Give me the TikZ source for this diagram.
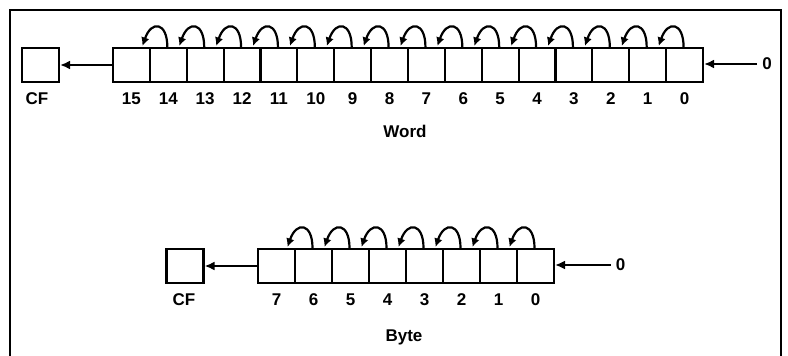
\documentclass[tikz,border=0pt]{standalone}
\usepackage{fontspec}
\setmainfont{Liberation Sans}
\usetikzlibrary{arrows.meta,calc}

\begin{document}
\begin{tikzpicture}[x=1pt,y=1pt,
  frame/.style={line width=2.2pt},
  cell/.style={draw,line width=2.1pt,minimum width=36.9pt,minimum height=34pt,inner sep=0pt},
  flagbox/.style={cell,minimum width=37pt},
  bitlbl/.style={font=\fontsize{17}{19}\selectfont\bfseries,inner sep=1pt},
  zerolbl/.style={bitlbl,inner xsep=5pt},
  title/.style={font=\fontsize{17}{19}\selectfont\bfseries,inner sep=1pt},
  hline/.style={line width=2.2pt,-{Latex[length=10pt,width=9pt]}},
  shiftarc/.style={line width=2.2pt,-{Latex[length=8.5pt,width=8.5pt]}}
]
\useasboundingbox (0,0) rectangle (788,-356);

% open frame, running off the lower edge
\draw[frame] (10,-356) -- (10,-10) -- (781,-10) -- (781,-356);

% ---------- word shift ----------
\foreach \b in {0,...,15}{
  \node[cell] (w\b) at ({113+(15-\b)*36.875+18.44},-65) {};
  \node[bitlbl] (lw\b) at ({113+(15-\b)*36.875+18.44},-99) {\b};
}
\node[flagbox] (cfw) at (40.5,-65) {};
\node[bitlbl] (lcfw) at (37,-99) {CF};
\draw[hline] (w15.west) -- (cfw.east);
\node[zerolbl] (zw) at (767,-64) {0};
\draw[hline] (zw.west) -- (zw.west -| w0.east);
\foreach \b [evaluate=\b as \c using int(\b+1)] in {0,...,14}{
  \draw[shiftarc] ($(w\b.north)+(-1,0)$)
    .. controls ($(w\b.north)+(-1,25)$) and ($(w\c.north)+(20,27)$)
    .. ($(w\c.north)+(11,1)$);
}
\node[title] (wordlbl) at (405,-131) {Word};

% ---------- byte shift ----------
\foreach \b in {0,...,7}{
  \node[cell] (y\b) at ({258+(7-\b)*37+18.5},-266) {};
  \node[bitlbl] (ly\b) at ({258+(7-\b)*37+18.5},-300) {\b};
}
\node[flagbox] (cfy) at (185,-266) {};
\node[bitlbl] (lcfy) at (184,-300) {CF};
\draw[hline] (y7.west) -- (cfy.east);
\node[zerolbl] (zy) at (620.5,-265) {0};
\draw[hline] (zy.west) -- (zy.west -| y0.east);
\foreach \b [evaluate=\b as \c using int(\b+1)] in {0,...,6}{
  \draw[shiftarc] ($(y\b.north)+(-1,0)$)
    .. controls ($(y\b.north)+(-1,25)$) and ($(y\c.north)+(20,27)$)
    .. ($(y\c.north)+(11,1)$);
}
\node[title] (bytelbl) at (404,-337) {Byte};
\end{tikzpicture}
\end{document}
